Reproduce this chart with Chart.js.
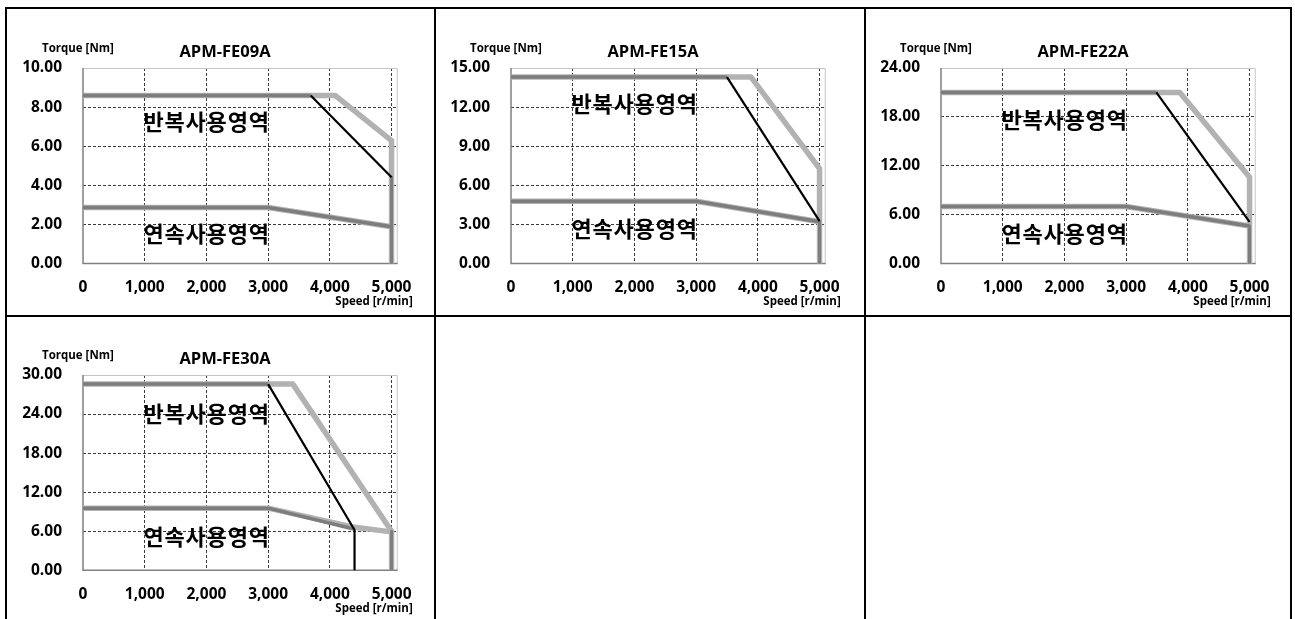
<!DOCTYPE html>
<html>
<head>
<meta charset="utf-8">
<script src="https://cdn.jsdelivr.net/npm/chart.js@4.4.1/dist/chart.umd.min.js"></script>
<style>
  body { margin: 0; background: #fff; width: 1295px; height: 619px; overflow: hidden; position: relative; }
  .ln { position: absolute; background: #000; }
  canvas { position: absolute; }
</style>
</head>
<body>
<!-- table frame -->
<div class="ln" style="left:5px;top:7px;width:1287px;height:2px"></div>
<div class="ln" style="left:5px;top:315px;width:1287px;height:2px"></div>
<div class="ln" style="left:5px;top:7px;width:2px;height:612px"></div>
<div class="ln" style="left:434px;top:7px;width:2px;height:612px"></div>
<div class="ln" style="left:864px;top:7px;width:2px;height:612px"></div>
<div class="ln" style="left:1290px;top:7px;width:2px;height:612px"></div>

<canvas id="c0" width="420" height="300"></canvas>
<canvas id="c1" width="420" height="300"></canvas>
<canvas id="c2" width="420" height="300"></canvas>
<canvas id="c3" width="420" height="300"></canvas>

<script>
// ---- data ----
const models = ['APM-FE09A', 'APM-FE15A', 'APM-FE22A', 'APM-FE30A'];
const speedTicks = [0, 1000, 2000, 3000, 4000, 5000];
const speedMax = 5100;
const torqueTicks = [
  [0, 2, 4, 6, 8, 10],
  [0, 3, 6, 9, 12, 15],
  [0, 6, 12, 18, 24],
  [0, 6, 12, 18, 24, 30],
];

// light gray: peak torque envelope [speed, torque]
const fe09Peak = [[0, 8.59], [4090, 8.59], [5000, 6.29], [5000, 0]];
const fe15Peak = [[0, 14.3], [3890, 14.3], [5000, 7.28], [5000, 0]];
const fe22Peak = [[0, 21.0], [3870, 21.0], [5000, 10.6], [5000, 0]];
const fe30Peak = [[0, 28.6], [3400, 28.6], [5000, 6.0], [5000, 0]];

// dark gray: flat part of the lower-voltage peak curve
const fe09PeakLow = [[0, 8.59], [3690, 8.59]];
const fe15PeakLow = [[0, 14.3], [3500, 14.3]];
const fe22PeakLow = [[0, 21.0], [3490, 21.0]];
const fe30PeakLow = [[0, 28.6], [3000, 28.6]];

// black: falling part of the lower-voltage peak curve
const fe09Fall = [[3690, 8.59], [5000, 4.41]];
const fe15Fall = [[3500, 14.3], [5000, 3.25]];
const fe22Fall = [[3490, 21.0], [5000, 5.1]];
const fe30Fall = [[3000, 28.6], [4400, 6.2], [4400, 0]];

// dark gray: drop to zero at max speed
const fe09Drop = [[5000, 4.41], [5000, 0]];
const fe15Drop = [[5000, 3.2], [5000, 0]];
const fe22Drop = [[5000, 4.6], [5000, 0]];
const fe30Drop = [[5000, 6.0], [5000, 0]];

// continuous torque (light halo + dark core)
const fe09Cont = [[0, 2.86], [3000, 2.86], [5000, 1.88]];
const fe15Cont = [[0, 4.77], [3000, 4.77], [5000, 3.2]];
const fe22Cont = [[0, 7.0], [3000, 7.0], [5000, 4.6]];
const fe30ContHalo = [[0, 9.55], [3000, 9.55], [4400, 6.6], [5000, 5.9]];
const fe30Cont = [[0, 9.55], [3000, 9.55], [4400, 6.3]];

const peakLabel = '반복사용영역';
const contLabel = '연속사용영역';

const panels = [
  { peak: fe09Peak, low: fe09PeakLow, fall: fe09Fall, drop: fe09Drop, halo: fe09Cont, cont: fe09Cont },
  { peak: fe15Peak, low: fe15PeakLow, fall: fe15Fall, drop: fe15Drop, halo: fe15Cont, cont: fe15Cont },
  { peak: fe22Peak, low: fe22PeakLow, fall: fe22Fall, drop: fe22Drop, halo: fe22Cont, cont: fe22Cont },
  { peak: fe30Peak, low: fe30PeakLow, fall: fe30Fall, drop: fe30Drop, halo: fe30ContHalo, cont: fe30Cont },
];

// ---- layout (plot area pixel boxes, label offsets) ----
const Y_AXIS_W = 76, TOP_PAD = 60, CW = 420, CH = 300;
const boxes = [
  { left: 82.7, top: 67.7, w: 317.5, h: 195.5, peakY: 54, contY: 165.5 },
  { left: 511, top: 67.7, w: 318, h: 195.5, peakY: 36, contY: 160.5 },
  { left: 940.7, top: 67.7, w: 317.5, h: 195.5, peakY: 52, contY: 165.5 },
  { left: 82.7, top: 375, w: 318.3, h: 195.3, peakY: 38.5, contY: 161.5 },
];

const LATIN = "'Open Sans', 'DejaVu Sans', sans-serif";
const KOREAN = "'Noto Sans CJK KR', sans-serif";
const LIGHT = '#b2b2b2', DARK = '#7d7d7d';

const toXY = arr => arr.map(([x, y]) => ({ x, y }));
const line = (data, color, width, order) => ({
  data: toXY(data), borderColor: color, borderWidth: width, order,
  pointRadius: 0, tension: 0, fill: false, borderJoinStyle: 'round', borderCapStyle: 'butt',
});

const framePlugin = {
  id: 'frame',
  beforeDatasetsDraw(chart) {
    const { ctx, chartArea: a } = chart;
    ctx.save();
    ctx.lineWidth = 1;
    ctx.strokeStyle = '#c6c6c6';
    ctx.beginPath();
    ctx.moveTo(a.left, a.top + 0.5); ctx.lineTo(a.right - 0.5, a.top + 0.5); ctx.lineTo(a.right - 0.5, a.bottom);
    ctx.stroke();
    ctx.strokeStyle = '#808080';
    ctx.lineWidth = 1.5;
    ctx.beginPath();
    ctx.moveTo(a.left, a.top); ctx.lineTo(a.left, a.bottom); ctx.lineTo(a.right, a.bottom);
    ctx.stroke();
    ctx.restore();
  },
  afterDraw(chart) {
    const { ctx, chartArea: a } = chart;
    const o = chart.options.plugins.frame;
    ctx.save();
    ctx.fillStyle = '#000';
    ctx.textBaseline = 'middle';
    ctx.font = `bold 16.5px ${LATIN}`;
    ctx.textAlign = 'center';
    ctx.fillText(o.title, a.left + 142, a.top - 16);
    ctx.font = `bold 11.5px ${LATIN}`;
    ctx.textAlign = 'left';
    ctx.fillText('Torque [Nm]', a.left - 41, a.top - 19.5);
    ctx.textAlign = 'right';
    ctx.fillText('Speed [r/min]', a.right + 15, a.bottom + 38.5);
    ctx.font = `bold 22px ${KOREAN}`;
    ctx.letterSpacing = '0.8px';
    ctx.textAlign = 'left';
    ctx.fillText(peakLabel, a.left + 60.5, a.top + o.peakY);
    ctx.fillText(contLabel, a.left + 60.5, a.top + o.contY);
    ctx.restore();
  },
};

panels.forEach((p, i) => {
  const b = boxes[i];
  const canvas = document.getElementById('c' + i);
  canvas.style.left = (b.left - Y_AXIS_W) + 'px';
  canvas.style.top = (b.top - TOP_PAD) + 'px';
  const yTicks = torqueTicks[i];
  const yMax = yTicks[yTicks.length - 1];

  new Chart(canvas, {
    type: 'line',
    data: {
      datasets: [
        line(p.peak, LIGHT, 5.5, 5),
        line(p.halo, LIGHT, 5.5, 4),
        line(p.low, DARK, 3.5, 3),
        line(p.drop, DARK, 3, 2),
        line(p.cont, DARK, 3.5, 1),
        line(p.fall, '#000', 2.2, 0),
      ],
    },
    options: {
      responsive: false,
      animation: false,
      events: [],
      layout: { padding: { top: TOP_PAD, right: CW - Y_AXIS_W - b.w, left: 0, bottom: 0 } },
      plugins: {
        legend: { display: false },
        tooltip: { enabled: false },
        frame: { title: models[i], peakY: b.peakY, contY: b.contY },
      },
      scales: {
        x: {
          type: 'linear', min: 0, max: speedMax,
          afterBuildTicks: s => { s.ticks = speedTicks.map(v => ({ value: v })); },
          afterFit: s => { s.height = CH - TOP_PAD - b.h; },
          grid: {
            drawTicks: false, lineWidth: 1,
            color: c => (c.tick && c.tick.value === 0) ? 'rgba(0,0,0,0)' : '#3a3a3a',
          },
          border: { display: false, dash: [3, 2] },
          ticks: {
            padding: 15, color: '#000', maxRotation: 0,
            font: { family: LATIN, size: 15.5, weight: 'bold' },
            callback: v => v.toLocaleString('en-US'),
          },
        },
        y: {
          type: 'linear', min: 0, max: yMax,
          afterBuildTicks: s => { s.ticks = yTicks.map(v => ({ value: v })); },
          afterFit: s => { s.width = Y_AXIS_W; },
          grid: {
            drawTicks: false, lineWidth: 1,
            color: c => (c.tick && (c.tick.value === 0 || c.tick.value === yMax)) ? 'rgba(0,0,0,0)' : '#3a3a3a',
          },
          border: { display: false, dash: [3, 2] },
          ticks: {
            padding: 21, color: '#000',
            font: { family: LATIN, size: 15.5, weight: 'bold' },
            callback: v => v.toFixed(2),
          },
        },
      },
    },
    plugins: [framePlugin],
  });
});
</script>
</body>
</html>
